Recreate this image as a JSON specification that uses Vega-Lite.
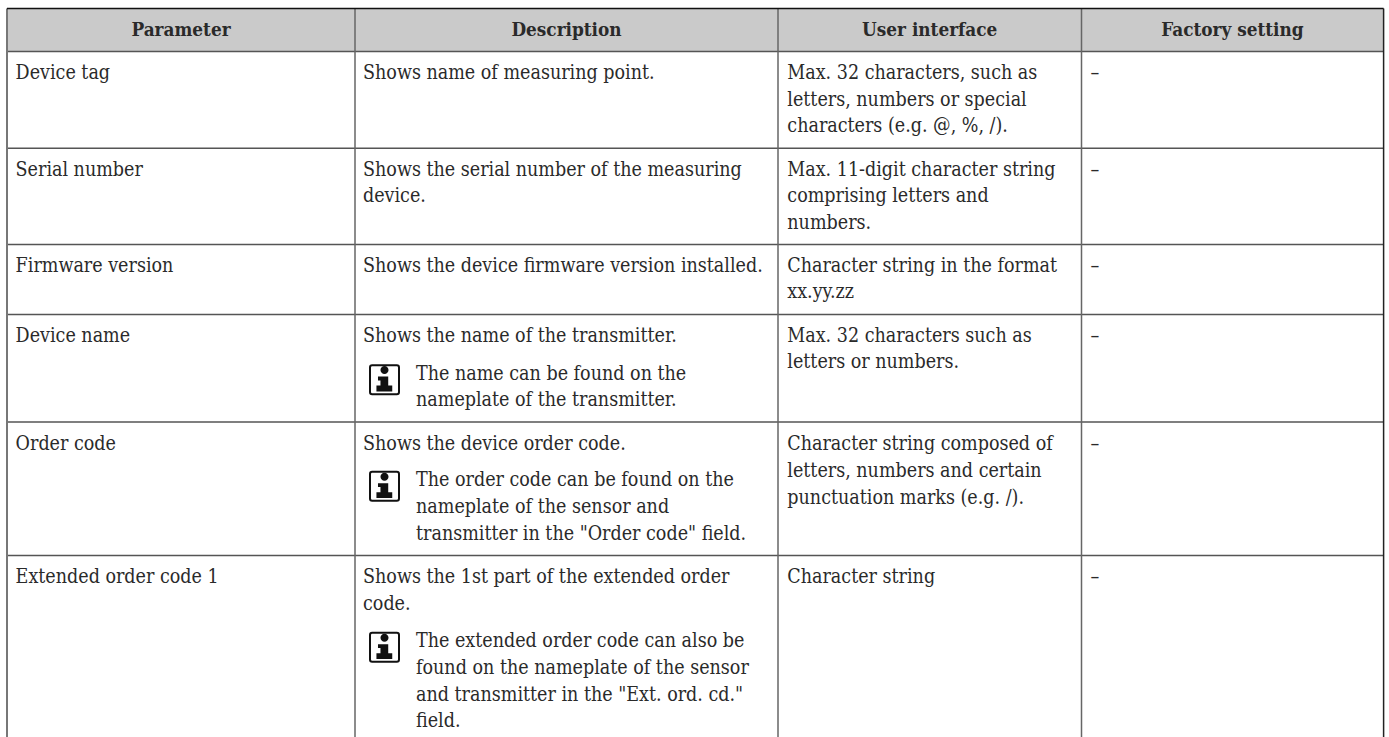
{"$schema":"https://vega.github.io/schema/vega-lite/v6.json","width":1389,"height":737,"autosize":{"type":"fit","contains":"padding"},"padding":0,"background":"white","view":{"stroke":null},
"config":{"text":{"font":"DejaVu Serif Condensed","fontSize":19.5,"color":"#2a2a2a"}},
"datasets":{
"header":[{"col":2,"line":1,"text":"Parameter"},{"col":7,"line":1,"text":"Description"},{"col":10,"line":1,"text":"User interface"},{"col":13,"line":1,"text":"Factory setting"}],
"body":[
{"col":1,"line":3,"text":"Device tag"},{"col":4,"line":3,"text":"Shows name of measuring point."},{"col":9,"line":3,"text":"Max. 32 characters, such as"},{"col":9,"line":4,"text":"letters, numbers or special"},{"col":9,"line":5,"text":"characters (e.g. @, %, /)."},{"col":12,"line":3,"text":"–"},
{"col":1,"line":7,"text":"Serial number"},{"col":4,"line":7,"text":"Shows the serial number of the measuring"},{"col":4,"line":8,"text":"device."},{"col":9,"line":7,"text":"Max. 11-digit character string"},{"col":9,"line":8,"text":"comprising letters and"},{"col":9,"line":9,"text":"numbers."},{"col":12,"line":7,"text":"–"},
{"col":1,"line":11,"text":"Firmware version"},{"col":4,"line":11,"text":"Shows the device firmware version installed."},{"col":9,"line":11,"text":"Character string in the format"},{"col":9,"line":12,"text":"xx.yy.zz"},{"col":12,"line":11,"text":"–"},
{"col":1,"line":14,"text":"Device name"},{"col":4,"line":14,"text":"Shows the name of the transmitter."},{"col":6,"line":16,"text":"The name can be found on the"},{"col":6,"line":17,"text":"nameplate of the transmitter."},{"col":9,"line":14,"text":"Max. 32 characters such as"},{"col":9,"line":15,"text":"letters or numbers."},{"col":12,"line":14,"text":"–"},
{"col":1,"line":19,"text":"Order code"},{"col":4,"line":19,"text":"Shows the device order code."},{"col":6,"line":21,"text":"The order code can be found on the"},{"col":6,"line":23,"text":"nameplate of the sensor and"},{"col":6,"line":24,"text":"transmitter in the \"Order code\" field."},{"col":9,"line":19,"text":"Character string composed of"},{"col":9,"line":20,"text":"letters, numbers and certain"},{"col":9,"line":22,"text":"punctuation marks (e.g. /)."},{"col":12,"line":19,"text":"–"},
{"col":1,"line":26,"text":"Extended order code 1"},{"col":4,"line":26,"text":"Shows the 1st part of the extended order"},{"col":4,"line":27,"text":"code."},{"col":6,"line":28,"text":"The extended order code can also be"},{"col":6,"line":29,"text":"found on the nameplate of the sensor"},{"col":6,"line":30,"text":"and transmitter in the \"Ext. ord. cd.\""},{"col":6,"line":31,"text":"field."},{"col":9,"line":26,"text":"Character string"},{"col":12,"line":26,"text":"–"}
],
"notes":[{"col":5,"line":16},{"col":5,"line":21},{"col":5,"line":28}],
"hlines":[{"line":2},{"line":6},{"line":10},{"line":13},{"line":18},{"line":25}],
"vlines":[{"col":3},{"col":8},{"col":11}]
},
"layer":[
{"data":{"values":[{"a":0,"b":14,"l1":0,"l2":2}]},"mark":{"type":"rect","fill":"#CACACA"},"encoding":{"x":{"field":"a","type":"quantitative","axis":null,"scale":{"domain":[0,1,2,3,4,5,6,7,8,9,10,11,12,13,14],"range":[7,15.6,181,355,363,384.5,416,566.5,778,787.3,929.7,1081.5,1090.4,1232.4,1383.6],"nice":false,"zero":false,"clamp":false}},"x2":{"field":"b"},"y":{"field":"l1","type":"quantitative","axis":null,"scale":{"domain":[0,1,2,3,4,5,6,7,8,9,10,11,12,13,14,15,16,17,18,19,20,21,22,23,24,25,26,27,28,29,30,31,32],"range":[8.5,35.7,51.5,79,105.7,132.4,148.3,175.7,202.3,229,244.5,271.7,298.3,314.5,341.7,368.4,379.7,406.3,422,450.3,477,486.3,503.7,513,539.7,555.5,583,610,647.3,674,700.7,727.4,737],"nice":false,"zero":false}},"y2":{"field":"l2"}}},
{"data":{"name":"hlines"},"mark":{"type":"rule","stroke":"#555555","strokeWidth":1.5},"encoding":{"y":{"field":"line","type":"quantitative"},"x":{"datum":0,"type":"quantitative"},"x2":{"datum":14}}},
{"data":{"name":"vlines"},"mark":{"type":"rule","stroke":"#666666","strokeWidth":1.5},"encoding":{"x":{"field":"col","type":"quantitative"},"y":{"datum":0,"type":"quantitative"},"y2":{"datum":32}}},
{"data":{"values":[{"col":0}]},"mark":{"type":"rule","stroke":"#777777","strokeWidth":2},"encoding":{"x":{"field":"col","type":"quantitative"},"y":{"datum":0,"type":"quantitative"},"y2":{"datum":32}}},
{"data":{"values":[{"col":14}]},"mark":{"type":"rule","stroke":"#222222","strokeWidth":1.5},"encoding":{"x":{"field":"col","type":"quantitative"},"y":{"datum":0,"type":"quantitative"},"y2":{"datum":32}}},
{"data":{"values":[{"line":0}]},"mark":{"type":"rule","stroke":"#111111","strokeWidth":1.5},"encoding":{"y":{"field":"line","type":"quantitative"},"x":{"datum":0,"type":"quantitative"},"x2":{"datum":14}}},
{"data":{"name":"notes"},"mark":{"type":"point","filled":false,"stroke":"#111111","strokeWidth":2,"opacity":1,"size":841,"shape":"M-.85,-1 L.85,-1 Q1,-1 1,-.85 L1,.85 Q1,1 .85,1 L-.85,1 Q-1,1 -1,.85 L-1,-.85 Q-1,-1 -.85,-1 Z"},"encoding":{"x":{"field":"col","type":"quantitative"},"y":{"field":"line","type":"quantitative"}}},
{"data":{"name":"notes"},"mark":{"type":"point","filled":true,"fill":"#111111","opacity":1,"stroke":null,"size":961,"shape":"M-.26,-.62 A.26,.26 0 1 1 .26,-.62 A.26,.26 0 1 1 -.26,-.62 Z M-.42,-.2 L.24,-.2 L.24,.38 L.5,.38 L.5,.76 L-.52,.76 L-.52,.38 L-.26,.38 L-.26,.05 L-.42,.05 Z"},"encoding":{"x":{"field":"col","type":"quantitative"},"y":{"field":"line","type":"quantitative"}}},
{"data":{"name":"header"},"mark":{"type":"text","align":"center","baseline":"alphabetic","fontWeight":"bold","fontSize":18.8},"encoding":{"x":{"field":"col","type":"quantitative"},"y":{"field":"line","type":"quantitative"},"text":{"field":"text"}}},
{"data":{"name":"body"},"mark":{"type":"text","align":"left","baseline":"alphabetic"},"encoding":{"x":{"field":"col","type":"quantitative"},"y":{"field":"line","type":"quantitative"},"text":{"field":"text"}}}
]}
